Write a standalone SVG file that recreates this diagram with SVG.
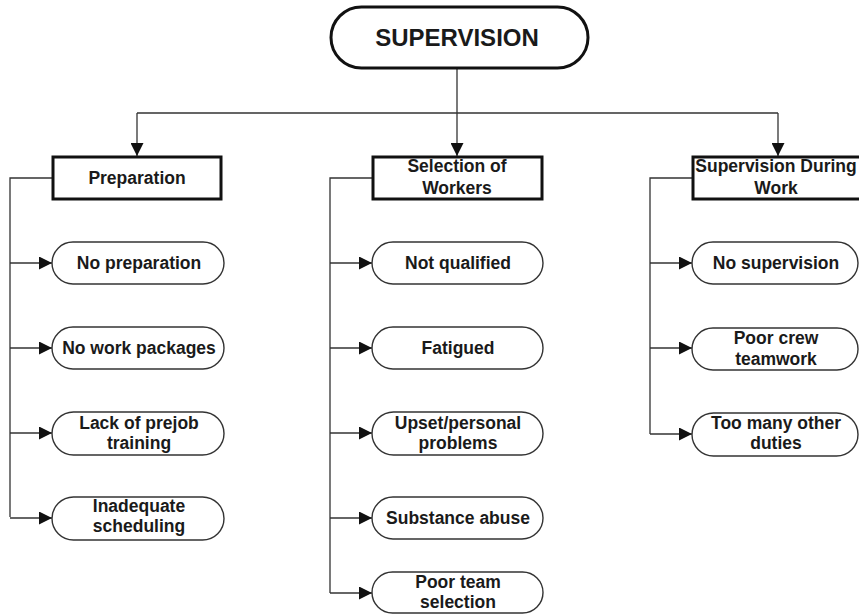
<svg xmlns="http://www.w3.org/2000/svg" width="859" height="614" viewBox="0 0 859 614">
  <defs>
    <marker id="arrow" viewBox="0 0 13 13" refX="13" refY="6.5" markerWidth="13" markerHeight="13" markerUnits="userSpaceOnUse" orient="auto">
      <path d="M0,0 L13,6.5 L0,13 Z" fill="#111"/>
    </marker>
    <style>
      .pill { fill: #fff; stroke: #333; stroke-width: 1.4; }
      .box { fill: #fff; stroke: #111; stroke-width: 3; }
      .root { fill: #fff; stroke: #111; stroke-width: 3; }
      .lbl { font-family: "Liberation Sans", Arial, sans-serif; font-weight: bold; font-size: 17.5px; fill: #1a1a1a; text-anchor: middle; }
      .title { font-family: "Liberation Sans", Arial, sans-serif; font-weight: bold; font-size: 24px; fill: #1a1a1a; text-anchor: middle; }
      .wire { fill: none; stroke: #333; stroke-width: 1.3; }
      .arr { fill: none; stroke: #333; stroke-width: 1.3; marker-end: url(#arrow); }
    </style>
  </defs>
  <rect width="859" height="614" fill="#fff"/>

  <!-- connectors -->
  <g id="connectors">
    <path class="wire" d="M457,68 V113 M137,113 H778"/>
    <path class="arr" d="M137,113 V156"/>
    <path class="arr" d="M457,113 V156"/>
    <path class="arr" d="M778,113 V156"/>

    <!-- Preparation branch -->
    <path class="wire" d="M52,178 H10 V517"/>
    <path class="arr" d="M10,263 H52"/>
    <path class="arr" d="M10,348 H52"/>
    <path class="arr" d="M10,433 H52"/>
    <path class="arr" d="M10,518 H52"/>

    <!-- Selection of Workers branch -->
    <path class="wire" d="M372,178 H330 V593"/>
    <path class="arr" d="M330,263 H372"/>
    <path class="arr" d="M330,348 H372"/>
    <path class="arr" d="M330,433 H372"/>
    <path class="arr" d="M330,518 H372"/>
    <path class="arr" d="M330,593 H372"/>

    <!-- Supervision During Work branch -->
    <path class="wire" d="M692,178 H650 V434"/>
    <path class="arr" d="M650,263 H692"/>
    <path class="arr" d="M650,348 H692"/>
    <path class="arr" d="M650,434 H692"/>
  </g>

  <!-- root -->
  <g id="supervision">
    <rect class="root" x="331" y="7" width="257" height="61" rx="30.5"/>
    <text class="title" x="457" y="46">SUPERVISION</text>
  </g>

  <!-- category boxes -->
  <g id="preparation">
    <rect class="box" x="53" y="157" width="168" height="42"/>
    <text class="lbl" x="137" y="184">Preparation</text>
  </g>
  <g id="selection-of-workers">
    <rect class="box" x="373" y="157" width="169" height="42"/>
    <text class="lbl" x="457" y="172">Selection of</text>
    <text class="lbl" x="457" y="194">Workers</text>
  </g>
  <g id="supervision-during-work">
    <rect class="box" x="693" y="157" width="168" height="42"/>
    <text class="lbl" x="776" y="172">Supervision During</text>
    <text class="lbl" x="776" y="194">Work</text>
  </g>

  <!-- Preparation items -->
  <g id="no-preparation">
    <rect class="pill" x="52" y="242" width="172" height="42" rx="21"/>
    <text class="lbl" x="139" y="269">No preparation</text>
  </g>
  <g id="no-work-packages">
    <rect class="pill" x="52" y="327" width="172" height="42" rx="21"/>
    <text class="lbl" x="139" y="354">No work packages</text>
  </g>
  <g id="lack-of-prejob-training">
    <rect class="pill" x="52" y="412" width="172" height="43" rx="21.5"/>
    <text class="lbl" x="139" y="429">Lack of prejob</text>
    <text class="lbl" x="139" y="449">training</text>
  </g>
  <g id="inadequate-scheduling">
    <rect class="pill" x="52" y="497" width="172" height="43" rx="21.5"/>
    <text class="lbl" x="139" y="512">Inadequate</text>
    <text class="lbl" x="139" y="532">scheduling</text>
  </g>

  <!-- Selection of Workers items -->
  <g id="not-qualified">
    <rect class="pill" x="372" y="242" width="171" height="42" rx="21"/>
    <text class="lbl" x="458" y="269">Not qualified</text>
  </g>
  <g id="fatigued">
    <rect class="pill" x="372" y="327" width="171" height="42" rx="21"/>
    <text class="lbl" x="458" y="354">Fatigued</text>
  </g>
  <g id="upset-personal-problems">
    <rect class="pill" x="372" y="412" width="171" height="43" rx="21.5"/>
    <text class="lbl" x="458" y="429">Upset/personal</text>
    <text class="lbl" x="458" y="449">problems</text>
  </g>
  <g id="substance-abuse">
    <rect class="pill" x="372" y="497" width="171" height="42" rx="21"/>
    <text class="lbl" x="458" y="524">Substance abuse</text>
  </g>
  <g id="poor-team-selection">
    <rect class="pill" x="372" y="572" width="171" height="41" rx="20.5"/>
    <text class="lbl" x="458" y="588">Poor team</text>
    <text class="lbl" x="458" y="608">selection</text>
  </g>

  <!-- Supervision During Work items -->
  <g id="no-supervision">
    <rect class="pill" x="692" y="242" width="166" height="42" rx="21"/>
    <text class="lbl" x="776" y="269">No supervision</text>
  </g>
  <g id="poor-crew-teamwork">
    <rect class="pill" x="692" y="328" width="166" height="42" rx="21"/>
    <text class="lbl" x="776" y="344">Poor crew</text>
    <text class="lbl" x="776" y="365">teamwork</text>
  </g>
  <g id="too-many-other-duties">
    <rect class="pill" x="692" y="413" width="166" height="43" rx="21.5"/>
    <text class="lbl" x="776" y="429">Too many other</text>
    <text class="lbl" x="776" y="449">duties</text>
  </g>
</svg>
